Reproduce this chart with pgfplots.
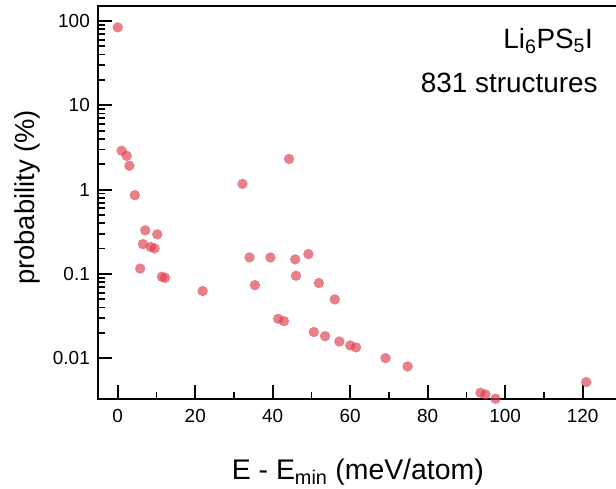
\documentclass[border=0pt]{standalone}
\usepackage{pgfplots}
\pgfplotsset{compat=1.18}
\usepackage{fontspec}
\setmainfont{Liberation Sans}
\definecolor{ptred}{RGB}{220,60,75}
\begin{document}
\begin{tikzpicture}
\begin{axis}[
  at={(0,0)}, anchor=south west,
  scale only axis,
  width=519.6bp, height=393bp,
  xmin=-5.1, xmax=129,
  ymode=log, ymin=0.00329, ymax=150.7,
  axis line style={line width=1.8bp},
  every tick/.style={line width=1.8bp, black},
  major tick length=14bp, minor tick length=7bp,
  tick align=inside,
  xtick pos=bottom, ytick pos=left,
  xtick={0,20,40,60,80,100,120},
  xticklabels={0,20,40,60,80,100,120},
  minor x tick num=1,
  ytick={0.01,0.1,1,10,100},
  yticklabels={0.01,0.1,1,10,100},
  tick label style={font=\fontsize{19}{22}\selectfont},
  xticklabel style={inner sep=0pt, anchor=north, yshift=-10bp},
  yticklabel style={inner sep=0pt, anchor=east, xshift=-8bp},
  xlabel={E - E\textsubscript{min} (meV/atom)},
  ylabel={probability (\%)},
  xlabel style={font=\fontsize{28.5}{32}\selectfont, at={(axis description cs:0.5,-0.2036)}, anchor=base, inner sep=0pt},
  ylabel style={font=\fontsize{27.5}{31}\selectfont, at={(axis description cs:-0.1226,0.513)}, anchor=base, inner sep=0pt},
]
\addplot[only marks, mark=*, mark size=5.2bp, color=ptred,
  mark options={solid, draw opacity=0, fill=ptred, fill opacity=0.65}]
coordinates {
(0,84) (1.0,2.9) (2.3,2.52) (3.0,1.92) (4.4,0.86)
(32.2,1.17) (44.2,2.31)
(7.1,0.329) (10.2,0.295) (6.5,0.226) (8.5,0.209) (9.5,0.201)
(5.8,0.116) (11.4,0.0927) (12.2,0.090) (21.9,0.0627)
(34.0,0.157) (39.4,0.157) (45.8,0.149) (49.2,0.172)
(35.4,0.0738) (46.0,0.0953) (51.9,0.078) (56.0,0.0499)
(41.4,0.0294) (42.9,0.0276) (50.6,0.0205) (53.5,0.0183)
(57.2,0.0158) (60.0,0.0142) (61.5,0.01346)
(69.1,0.01005) (74.8,0.0080)
(93.6,0.0039) (94.9,0.00373) (97.5,0.00331) (120.9,0.00522)
};
\node[anchor=base east, inner sep=0pt, font=\fontsize{28}{32}\selectfont]
  at (rel axis cs:0.9527,0.893) {Li\textsubscript{6}PS\textsubscript{5}I};
\node[anchor=base east, inner sep=0pt, font=\fontsize{28}{32}\selectfont]
  at (rel axis cs:0.962,0.781) {831 structures};
\end{axis}
\pgfresetboundingbox
\path[use as bounding box] (-98bp,-90bp) rectangle (518bp,399bp);
\end{tikzpicture}
\end{document}
